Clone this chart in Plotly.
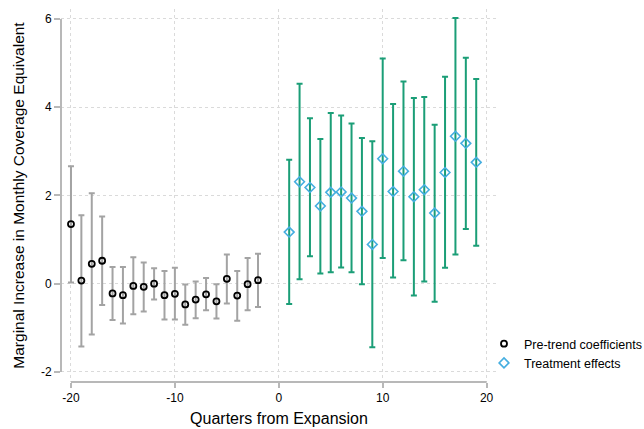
import plotly.graph_objects as go

# Pre-trend coefficients
pre_x = [-20, -19, -18, -17, -16, -15, -14, -13, -12, -11, -10, -9, -8, -7, -6, -5, -4, -3, -2]
pre_y = [1.35, 0.07, 0.45, 0.52, -0.22, -0.26, -0.05, -0.07, 0.00, -0.26, -0.23, -0.47, -0.36, -0.24, -0.40, 0.11, -0.27, -0.01, 0.08]
pre_hi = [2.66, 1.55, 2.05, 1.52, 0.38, 0.38, 0.60, 0.48, 0.35, 0.29, 0.36, -0.02, 0.05, 0.13, -0.01, 0.66, 0.29, 0.58, 0.68]
pre_lo = [0.03, -1.42, -1.15, -0.48, -0.82, -0.90, -0.69, -0.63, -0.36, -0.81, -0.81, -0.93, -0.78, -0.60, -0.79, -0.45, -0.84, -0.60, -0.53]

# Treatment effects
tr_x = [1, 2, 3, 4, 5, 6, 7, 8, 9, 10, 11, 12, 13, 14, 15, 16, 17, 18, 19]
tr_y = [1.17, 2.31, 2.18, 1.76, 2.07, 2.08, 1.94, 1.64, 0.89, 2.83, 2.09, 2.55, 1.97, 2.13, 1.60, 2.52, 3.34, 3.18, 2.75]
tr_hi = [2.81, 4.53, 3.75, 3.28, 3.87, 3.81, 3.63, 3.30, 3.23, 5.10, 4.07, 4.58, 4.21, 4.23, 3.60, 4.69, 6.02, 5.12, 4.64]
tr_lo = [-0.46, 0.10, 0.62, 0.23, 0.26, 0.37, 0.26, -0.01, -1.44, 0.58, 0.14, 0.53, -0.27, 0.05, -0.41, 0.36, 0.66, 1.24, 0.86]

x_ticks = [-20, -10, 0, 10, 20]
y_ticks = [-2, 0, 2, 4, 6]

GRAY_BAR = "#a3a3a3"
GREEN = "#1b9e77"
BLUE = "#45aee0"
AXIS = "#b8b8b8"
GRID = "#dadada"
FONT = "Liberation Sans, Arial, Helvetica, sans-serif"

fig = go.Figure()

fig.add_trace(go.Scatter(
    x=pre_x, y=pre_y, mode="markers", name="Pre-trend coefficients",
    marker=dict(symbol="circle-open", size=6, color="black", line=dict(width=1.8, color="black")),
    error_y=dict(type="data", symmetric=False,
                 array=[h - v for h, v in zip(pre_hi, pre_y)],
                 arrayminus=[v - l for v, l in zip(pre_y, pre_lo)],
                 color=GRAY_BAR, thickness=2, width=3),
))
fig.add_trace(go.Scatter(
    x=tr_x, y=tr_y, mode="markers", name="Treatment effects",
    marker=dict(symbol="diamond-open", size=7.5, color=BLUE, line=dict(width=1.6, color=BLUE)),
    error_y=dict(type="data", symmetric=False,
                 array=[h - v for h, v in zip(tr_hi, tr_y)],
                 arrayminus=[v - l for v, l in zip(tr_y, tr_lo)],
                 color=GREEN, thickness=2, width=3),
))

# Stata-style detached axis lines
fig.add_shape(type="line", xref="paper", yref="y", x0=0, x1=0, y0=min(y_ticks), y1=max(y_ticks),
              line=dict(color=AXIS, width=2))
fig.add_shape(type="line", xref="x", yref="paper", x0=min(x_ticks), x1=max(x_ticks), y0=0, y1=0,
              line=dict(color=AXIS, width=2))

fig.update_layout(
    width=644, height=429,
    margin=dict(l=61, r=147, t=9, b=47, autoexpand=False),
    paper_bgcolor="white", plot_bgcolor="white",
    font=dict(family=FONT, size=12, color="black"),
    showlegend=True,
    legend=dict(xref="container", yref="container", x=484 / 644, y=1 - 329 / 429,
                xanchor="left", yanchor="top",
                font=dict(family=FONT, size=12.5, color="black"),
                bgcolor="rgba(0,0,0,0)", itemwidth=30, tracegroupgap=0),
    xaxis=dict(range=[-20.96, 21.0], tickvals=x_ticks, ticktext=[str(v) for v in x_ticks],
               showline=False, zeroline=False, automargin=False,
               showgrid=True, gridcolor=GRID, griddash="dot", gridwidth=1,
               ticks="outside", ticklen=5, tickcolor=AXIS, tickwidth=2,
               tickfont=dict(size=12, color="black"),
               title=dict(text="Quarters from Expansion", font=dict(size=16), standoff=8)),
    yaxis=dict(range=[-2.227, 6.224], tickvals=y_ticks, ticktext=[str(v) for v in y_ticks],
               showline=False, zeroline=False, automargin=False,
               showgrid=True, gridcolor=GRID, griddash="dot", gridwidth=1,
               ticks="outside", ticklen=6, tickcolor=AXIS, tickwidth=2,
               tickfont=dict(size=12, color="black"),
               title=dict(text="Marginal Increase in Monthly Coverage Equivalent", font=dict(size=15.5), standoff=12)),
)

fig.write_html("out.html")
